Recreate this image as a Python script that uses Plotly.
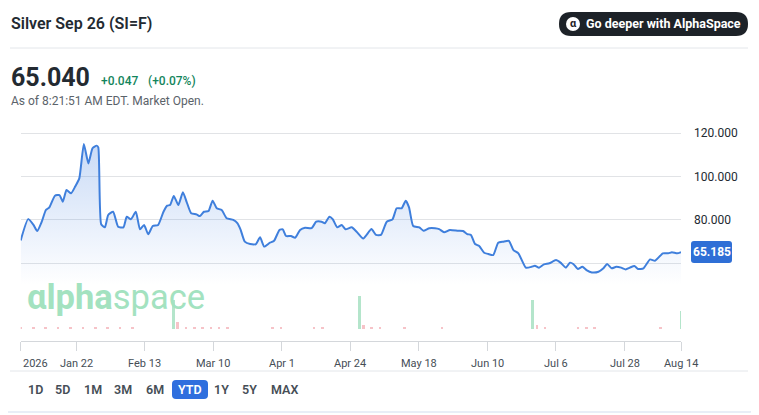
import plotly.graph_objects as go

# the page adds an 8px body margin, so the figure is drawn 8px smaller
# and every page-pixel position is shifted by that offset
PAGE_W, PAGE_H, OFF = 759, 415, 8
W, H = PAGE_W - OFF, PAGE_H - OFF

# price curve: x is the trading-day index from Jan 2
day = [0, 1.8, 3.1, 4.0, 5.1, 6.1, 6.9, 8.3, 9.4, 10.2, 11.1, 12.2, 13.2, 14.2,
       15.3, 16.4, 17.4, 18.4, 18.8, 19.5, 20.4, 21.2, 22.4, 23.6, 24.9, 25.7,
       26.7, 27.9, 28.9, 29.9, 30.9, 32.0, 33.3, 34.6, 35.5, 36.2, 37.1, 38.2,
       39.3, 40.2, 41.3, 42.6, 43.4, 44.4, 45.5, 46.5, 47.5, 48.7, 49.9, 51.5,
       52.5, 53.3, 54.3, 55.6, 57.0, 58.0, 59.0, 60.4, 61.4, 62.7, 63.5, 64.3,
       65.5, 66.5, 67.7, 68.9, 70.5, 71.6, 72.9, 73.7, 74.8, 75.6, 76.7, 77.8,
       78.7, 80.2, 81.4, 83.0, 85.0, 86.1, 87.3, 88.7, 90.1, 91.1, 92.3, 93.3,
       94.1, 95.1, 96.6, 97.6, 99.0, 100.4, 101.4, 102.6, 104.0, 106.0, 107.2,
       108.2, 109.1, 110.1, 111.1, 112.3, 113.3, 114.5, 115.7, 116.9, 118.3,
       119.4, 120.6, 122.4, 123.8, 124.6, 125.6, 126.8, 128.1, 129.7, 130.8,
       132.1, 133.1, 133.9, 135.0, 136.1, 137.1, 138.4, 140.0, 141.2, 142.1,
       143.2, 144.3, 145.5, 146.6, 147.6, 148.7, 149.6, 150.9, 152.5, 153.7,
       155.6, 156.9, 157.8, 159.1, 160]
price = [70.6, 80.4, 77.7, 74.9, 79.2, 84.6, 85.7, 91.2, 91.5, 88.4, 93.8, 92.3,
         95.4, 99.2, 115.1, 106.1, 113.1, 114.3, 113.5, 78.0, 76.6, 82.3, 83.8,
         76.9, 76.6, 81.5, 80.3, 83.8, 75.7, 77.7, 73.4, 77.2, 77.7, 83.8, 86.6,
         86.9, 91.1, 86.9, 92.8, 88.4, 83.1, 82.6, 81.8, 83.8, 84.1, 88.9, 85.4,
         84.6, 80.8, 80.0, 78.5, 75.4, 70.0, 68.9, 68.9, 72.0, 67.7, 69.5, 70.4,
         75.4, 75.7, 72.6, 72.6, 71.8, 75.4, 76.4, 76.2, 79.2, 79.2, 78.5, 81.5,
         80.4, 76.6, 77.7, 75.7, 76.6, 74.6, 71.5, 75.8, 73.1, 73.1, 79.2, 80.3,
         85.4, 85.4, 88.9, 85.8, 77.2, 76.6, 75.0, 76.2, 76.2, 75.8, 74.3, 75.4,
         75.0, 74.9, 73.5, 73.1, 68.9, 68.0, 64.9, 64.3, 63.8, 69.5, 70.0, 70.4,
         66.1, 64.6, 58.0, 58.4, 58.9, 58.0, 59.5, 60.0, 61.5, 60.3, 58.0, 60.3,
         59.7, 57.4, 58.4, 56.9, 55.8, 56.1, 57.7, 59.7, 57.7, 58.4, 58.0, 57.2,
         58.0, 58.8, 57.4, 57.7, 61.8, 61.2, 64.6, 64.6, 65.1, 64.6, 65.185]

# volume bars (green = up day, red = down day)
vol_day = [0, 3, 6, 9, 12, 15, 18, 21, 24, 27, 37, 38, 40, 42, 44, 46, 48, 50,
           61, 63, 71, 73, 82, 83, 85, 87, 93, 102, 124, 125, 127, 135, 137,
           139, 155, 160]
vol = [1.5, 2.5, 1.5, 1.5, 1.5, 1.5, 2.5, 1.5, 1.5, 1.5, 29, 7, 1.5, 1.5, 1.5,
       1.5, 1.5, 1.5, 1.5, 1.5, 1.5, 1.5, 33, 4, 1.5, 1.5, 1.5, 1.5, 29, 4, 1.5,
       1.5, 1.5, 1.5, 1.5, 18]
vol_up = [False, False, False, False, False, False, False, False, False, False,
          True, False, False, False, False, False, False, False, False, False,
          False, False, True, False, False, False, False, False, True, False,
          False, False, False, False, False, True]

tick_day = [0, 13.4, 29.9, 46.6, 63.3, 79.8, 96.5, 113, 129.7, 146.4, 160]
tick_text = ["2026", "Jan 22", "Feb 13", "Mar 10", "Apr 1", "Apr 24", "May 18",
             "Jun 10", "Jul 6", "Jul 28", "Aug 14"]
price_ticks = [60, 80, 100, 120]

ranges = ["1D", "5D", "1M", "3M", "6M", "YTD", "1Y", "5Y", "MAX"]
range_x = [35, 63, 93, 123, 155, 190, 221, 249, 284]

last_price = "65.040"
change = "+0.047"
change_pct = "(+0.07%)"
last_close = 65.185

FONT = "Roboto"
DARK = "#232a31"
GREY = "#5b636a"
BLUE = "#3f7fdc"


def px(x):
    return (x - OFF) / W


def py(y):
    return 1 - (y - OFF) / H


def rounded(x0, y0, x1, y1, r):
    rx, ry = r / W, r / H
    a, b, c, d = px(x0), px(x1), py(y1), py(y0)
    return (f"M{a+rx},{c} L{b-rx},{c} Q{b},{c} {b},{c+ry} L{b},{d-ry} "
            f"Q{b},{d} {b-rx},{d} L{a+rx},{d} Q{a},{d} {a},{d-ry} "
            f"L{a},{c+ry} Q{a},{c} {a+rx},{c} Z")


fig = go.Figure()

fig.add_trace(go.Scatter(
    x=day, y=price, mode="lines",
    line=dict(color=BLUE, width=2, shape="spline", smoothing=0.5),
    fill="tozeroy",
    fillgradient=dict(type="vertical", start=50, stop=118,
                      colorscale=[[0, "rgba(70,130,225,0)"],
                                  [1, "rgba(70,130,225,0.30)"]]),
    hoverinfo="skip", xaxis="x", yaxis="y"))

fig.add_trace(go.Bar(
    x=vol_day, y=vol, width=0.65,
    marker=dict(color=["#b4e5cb" if u else "#f6c3c8" for u in vol_up], line_width=0),
    hoverinfo="skip", xaxis="x", yaxis="y2"))

shapes = []
# header separator, bottom separator
shapes.append(dict(type="line", xref="paper", yref="paper", x0=px(10), x1=px(748),
                   y0=py(48), y1=py(48), line=dict(color="#e3e6ea", width=1)))
shapes.append(dict(type="line", xref="paper", yref="paper", x0=px(10), x1=px(748),
                   y0=py(371), y1=py(371), line=dict(color="#e3e6ea", width=1)))
# card border (bottom / right)
shapes.append(dict(type="path", xref="paper", yref="paper",
                   path=f"M0,{py(412)} L{px(750)},{py(412)} Q{px(757)},{py(412)} {px(757)},{py(405)} L{px(757)},1",
                   line=dict(color="#d2ddef", width=1)))
# AlphaSpace button
shapes.append(dict(type="path", xref="paper", yref="paper", path=rounded(559, 12, 748, 36, 12),
                   fillcolor="#1d2228", line=dict(width=0), layer="above"))
shapes.append(dict(type="circle", xref="paper", yref="paper", x0=px(566), x1=px(580),
                   y0=py(31), y1=py(17), fillcolor="white", line=dict(width=0), layer="above"))
# YTD highlight
shapes.append(dict(type="path", xref="paper", yref="paper", path=rounded(172, 380, 208, 399, 4),
                   fillcolor="#2f6fde", line=dict(width=0), layer="above"))
# last price badge
shapes.append(dict(type="path", xref="paper", yref="y", ysizemode="pixel", yanchor=last_close,
                   path=f"M{px(694)},-11 L{px(729)},-11 Q{px(732)},-11 {px(732)},-8 L{px(732)},8 "
                        f"Q{px(732)},11 {px(729)},11 L{px(694)},11 Q{px(691)},11 {px(691)},8 "
                        f"L{px(691)},-8 Q{px(691)},-11 {px(694)},-11 Z",
                   fillcolor="#2f6fd6", line=dict(width=0), layer="above"))

ann = []


def text(x, y, s, size, color, weight=400, xanchor="left", xref="paper", yref="paper", family=FONT):
    ann.append(dict(x=x, y=y, xref=xref, yref=yref, text=s, showarrow=False,
                    xanchor=xanchor, yanchor="middle",
                    font=dict(family=family, size=size, color=color, weight=weight)))


text(px(9), py(24), "Silver Sep 26 (SI=F)", 16, DARK, 600)
text(px(573), py(24), "α", 11, "#1d2228", 700, xanchor="center")
text(px(584), py(24), "Go deeper with AlphaSpace", 12.5, "white", 700)
text(px(9), py(77), last_price, 25, DARK, 700)
text(px(99), py(81), change, 12, "#13855c", 500)
text(px(146), py(81), change_pct, 12, "#13855c", 500)
text(px(9), py(101), "As of 8:21:51 AM EDT. Market Open.", 12, GREY)
text(px(25), py(297), "<b>αlpha</b>space", 34.5, "#a3e2c0")
for i, (d, t) in enumerate(zip(tick_day, tick_text)):
    text(d, py(363), t, 11, "#464e56", 400, xanchor="left" if i == 0 else "center", xref="x")
text(px(711.5), last_close, f"{last_close:.3f}", 12, "white", 700, xanchor="center", yref="y")
for r, x in zip(ranges, range_x):
    text(px(x), py(389.5), r, 12.5, "white" if r == "YTD" else "#464e56", 600, xanchor="center")

fig.update_layout(
    width=W, height=H, margin=dict(l=0, r=0, t=0, b=0),
    paper_bgcolor="white", plot_bgcolor="white", showlegend=False,
    bargap=0,
    xaxis=dict(domain=[px(20.7), px(681)], range=[0, 160], anchor="y2",
               showgrid=False, zeroline=False, showline=True, linecolor="#d4d7db",
               ticks="outside", ticklen=9, tickcolor="#d4d7db", tickvals=tick_day,
               showticklabels=False),
    yaxis=dict(domain=[py(285), py(122)], range=[50, 125.2], side="right", anchor="x",
               tickvals=price_ticks, ticktext=["" if v == 60 else f"{v:.3f}" for v in price_ticks],
               gridcolor="#e1e3e6", zeroline=False, showline=False, ticks="",
               ticklabelstandoff=12, tickfont=dict(family=FONT, size=12, color=DARK)),
    yaxis2=dict(domain=[py(341), py(290)], range=[-12, 39], anchor="x",
                showgrid=False, zeroline=False, showticklabels=False, showline=False),
    shapes=shapes, annotations=ann,
)

fig.write_html("out.html")
